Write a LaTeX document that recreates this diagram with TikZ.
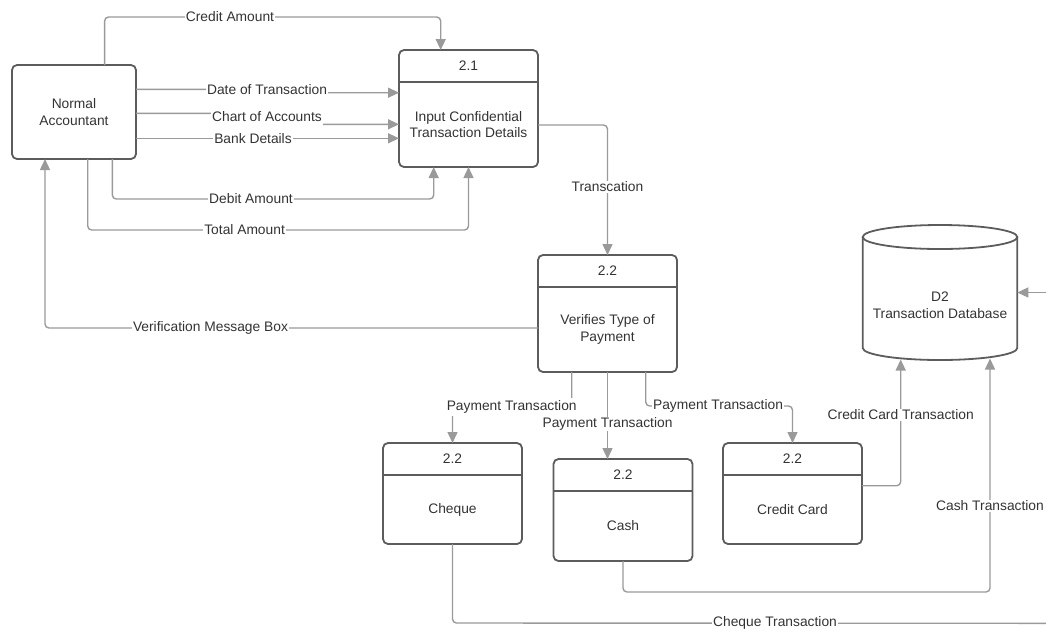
\documentclass[tikz,border=0pt]{standalone}
\usepackage{fontspec}
\setmainfont{Liberation Sans}
\usetikzlibrary{arrows.meta,calc}

\definecolor{flowgray}{HTML}{9A9A9A}
\definecolor{boxgray}{HTML}{5C5C5C}
\definecolor{inkgray}{HTML}{333333}

\tikzset{
  every node/.style={font=\fontsize{13.8}{16.5}\selectfont, text=inkgray},
  procbox/.style={draw=boxgray, line width=1.8pt, rounded corners=5pt, inner sep=0pt, outer sep=0pt},
  divider/.style={draw=boxgray, line width=1.8pt},
  flow/.style={draw=flowgray, line width=1.4pt, rounded corners=4pt, -{Triangle[length=11pt,width=10pt]}},
  plainflow/.style={draw=flowgray, line width=1.4pt, rounded corners=4pt},
  lbl/.style={fill=white, inner xsep=1pt, inner ysep=1pt},
  bodytext/.style={align=center, inner sep=0pt},
}

% process box: name, centre, width, height, number, body text
\newcommand\dfdproc[6]{%
  \node[procbox, minimum width=#3, minimum height=#4] (#1) at (#2) {};
  \draw[divider] ([yshift=-32pt]#1.north west) -- ([yshift=-32pt]#1.north east);
  \node[inner sep=0pt] (#1-num) at ([yshift=-16pt]#1.north) {#5};
  \node[bodytext] (#1-txt) at ($([yshift=-32pt]#1.north)!0.5!(#1.south)$) {#6};
}

\begin{document}
\begin{tikzpicture}[x=1pt,y=-1pt]
\useasboundingbox (0,0) rectangle (1046,633);

% external entity
\node[procbox, minimum width=124, minimum height=94, align=center] (acct) at (74,112) {Normal\\Accountant};

% processes
\dfdproc{p21}{468.5,108.5}{139}{117}{2.1}{Input Confidential\\Transaction Details}
\dfdproc{p22}{607.5,313.5}{139}{117}{2.2}{Verifies Type of\\Payment}
\dfdproc{cheque}{452.5,493.5}{139}{101}{2.2}{Cheque}
\dfdproc{cash}{623,510}{139}{102}{2.2}{Cash}
\dfdproc{ccard}{792.5,493.5}{139}{101}{2.2}{Credit Card}

% data store D2
\node[inner sep=0pt, outer sep=0pt, minimum width=154.6, minimum height=135] (db) at (940,292.5) {};
\draw[boxgray, line width=1.8pt] (940,237) ellipse [x radius=77.3pt, y radius=12pt];
\draw[boxgray, line width=1.8pt, line join=round] (862.7,237) -- (862.7,348)
  .. controls (862.7,354.63) and (897.3,360) .. (940,360)
  .. controls (982.7,360) and (1017.3,354.63) .. (1017.3,348) -- (1017.3,237);
\node[bodytext] (db-txt) at (940,305) {D2\\Transaction Database};
\coordinate (db-cc) at (900.7,359.5);
\coordinate (db-cash) at (990,358.5);

% free ends at the page edge
\coordinate (edgeE) at (1046,292.5);
\coordinate (edgeS) at (1046,623.3);

% data flows
\draw[flow] ([xshift=30.6pt]acct.north) -- ++(0,-48) -| ([xshift=-27.8pt]p21.north);
\draw[flow] ([yshift=22.7pt]acct.east) -- (267,89.3) -- (267,92.7) -- ([yshift=15.8pt]p21.west);
\draw[flow] ([yshift=-1.3pt]acct.east) -- (267,113.3) -- (267,124.3) -- ([yshift=-15.8pt]p21.west);
\draw[flow] ([yshift=-26.3pt]acct.east) -- ([yshift=-29.8pt]p21.west);
\draw[flow] ([xshift=38.3pt]acct.south) -- ++(0,40) -| ([xshift=-34.8pt]p21.south);
\draw[flow] ([xshift=13.7pt]acct.south) -- ++(0,71) -| (p21.south);
\draw[flow] ([yshift=-16.5pt]p21.east) -| (p22.north);
\draw[flow] ([yshift=-14.5pt]p22.west) -| ([xshift=-29pt]acct.south);
\draw[flow] ([xshift=-35.8pt]p22.south) -- ++(0,34) -| (cheque.north);
\draw[flow] (p22.south) -- ([xshift=-15.5pt]cash.north);
\draw[flow] ([xshift=38.2pt]p22.south) -- ++(0,34) -| (ccard.north);
\draw[flow] ([yshift=7.8pt]ccard.east) -| (db-cc);
\draw[flow] (cash.south) -- ++(0,31) -| (db-cash);
\draw[plainflow] (cheque.south) -- ++(0,79) -- (edgeS);
\draw[flow] (edgeE) -- (db.east);

% flow labels
\node[lbl] (l-credit) at (230,17) {Credit Amount};
\node[lbl, inner ysep=3pt] (l-date) at (267,89.5) {Date of Transaction};
\node[lbl, inner ysep=4.5pt] (l-chart) at (267,117) {Chart of Accounts};
\node[lbl] (l-bank) at (253,138.3) {Bank Details};
\node[lbl] (l-debit) at (251,199) {Debit Amount};
\node[lbl] (l-total) at (244.6,230) {Total Amount};
\node[lbl] (l-trans) at (607.5,187) {Transcation};
\node[lbl] (l-verify) at (210.5,328) {Verification Message Box};
\node[lbl, inner ysep=2.5pt] (l-pay1) at (511.7,407) {Payment Transaction};
\node[lbl] (l-pay2) at (607.5,424) {Payment Transaction};
\node[lbl] (l-pay3) at (718,406) {Payment Transaction};
\node[lbl] (l-ccard) at (900.7,415) {Credit Card Transaction};
\node[lbl] (l-cash) at (990,506) {Cash Transaction};
\node[lbl] (l-cheque) at (775,623.3) {Cheque Transaction};
\end{tikzpicture}
\end{document}
